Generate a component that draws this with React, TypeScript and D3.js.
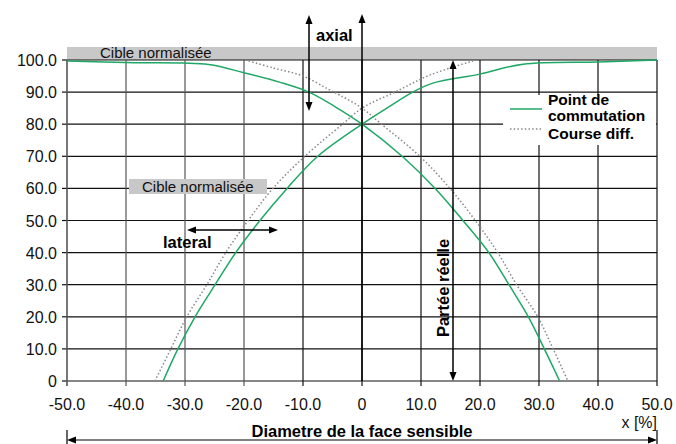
import React from 'react';
import * as d3 from 'd3';

// x ticks and y ticks
const xTicks = [-50, -40, -30, -20, -10, 0, 10, 20, 30, 40, 50];
const yTicks = [0, 10, 20, 30, 40, 50, 60, 70, 80, 90, 100];
const fmt = (v: number) => (v === 0 ? '0' : v.toFixed(1));

// green "Point de commutation" curves
const fallX = [-50, -40, -26, -20, -14, -9, -4.6, 0, 6.8, 12.4, 17.1, 21.5, 24.9, 28.2, 30.9, 33.5];
const fallY = [99.7, 99.2, 98.6, 96, 93.1, 90, 85.5, 80, 70, 60, 50, 40, 30, 20, 10, 0];
const riseX = [-33.7, -31.2, -28.3, -24.9, -21.4, -17.3, -12.7, -7.5, 0, 4.2, 8.6, 12, 20, 27.3, 40, 50];
const riseY = [0, 10, 20, 30, 40, 50, 60, 70, 80, 85, 90, 92.8, 95.6, 98.7, 99.4, 100];

// dotted "Course diff." curves
const dFallX = [-19.8, -15, -10, -5.8, -3.7, 0, 3.3, 9.8, 14.9, 19.2, 23, 26.2, 29.8, 32.4, 34.9];
const dFallY = [100, 97.5, 95, 91, 89, 85, 80, 70, 60, 50, 40, 30, 20, 10, 0];
const dRiseX = [-35.1, -32.4, -29.7, -26.3, -23.1, -19.3, -15.1, -9.7, -3.3, 0, 5.6, 11.5, 18.8];
const dRiseY = [0, 10, 20, 30, 40, 50, 60, 70, 80, 85, 90, 95.3, 99.7];

const W = 676, H = 444;
const x = d3.scaleLinear().domain([-50, 50]).range([67, 657]);
const y = d3.scaleLinear().domain([0, 100]).range([381, 60]);

const GREEN = '#1fa865';
const DOT = '#888';
const FONT = '"Liberation Sans", Arial, Helvetica, sans-serif';

const line = d3.line<[number, number]>().x(d => x(d[0])).y(d => y(d[1])).curve(d3.curveCatmullRom.alpha(0.5));
const pts = (xs: number[], ys: number[]) => xs.map((v, i) => [v, ys[i]] as [number, number]);

// filled arrow head pointing in a direction
const Head = ({ px, py, dir }: { px: number; py: number; dir: 'up' | 'down' | 'left' | 'right' }) => {
  const l = 9, w = 3.5;
  let p = '';
  if (dir === 'up') p = `${px},${py} ${px - w},${py + l} ${px + w},${py + l}`;
  if (dir === 'down') p = `${px},${py} ${px - w},${py - l} ${px + w},${py - l}`;
  if (dir === 'left') p = `${px},${py} ${px + l},${py - w} ${px + l},${py + w}`;
  if (dir === 'right') p = `${px},${py} ${px - l},${py - w} ${px - l},${py + w}`;
  return <polygon points={p} fill="#000" />;
};

export default function App() {
  return (
    <svg width={W} height={H} style={{ position: 'absolute', left: 0, top: 0, background: '#fff' }} fontFamily={FONT}>
      {/* top grey band */}
      <rect x={x(-50)} y={47} width={x(50) - x(-50)} height={y(100) - 47} fill="#c8c8c8" />
      <text x={100} y={58} fontSize={15} fill="#111">Cible normalisée</text>

      {/* grid */}
      {yTicks.map(t => (
        <g key={`h${t}`}>
          <line x1={x(-50)} x2={x(50)} y1={y(t)} y2={y(t)} stroke="#111" strokeWidth={1.2} />
          <line x1={x(-50) - 5} x2={x(-50)} y1={y(t)} y2={y(t)} stroke="#111" strokeWidth={1.2} />
          <text x={57} y={y(t) + 6} textAnchor="end" fontSize={16} fill="#111">{fmt(t)}</text>
        </g>
      ))}
      {xTicks.map(t => (
        <g key={`v${t}`}>
          <line x1={x(t)} x2={x(t)} y1={y(100)} y2={y(0) + 5} stroke={t < -10 ? '#555' : '#111'} strokeWidth={t === -50 ? 1.6 : 1.2} />
          <text x={x(t)} y={410} textAnchor="middle" fontSize={16} fill="#111">{fmt(t)}</text>
        </g>
      ))}
      <text x={x(50)} y={428} textAnchor="end" fontSize={16} fill="#111">x [%]</text>

      {/* second grey label */}
      <rect x={129} y={179} width={138} height={15} fill="#c8c8c8" />
      <text x={142} y={192} fontSize={15} fill="#111">Cible normalisée</text>

      {/* legend box */}
      <rect x={503} y={95} width={153} height={50} fill="#fff" />
      <line x1={510} x2={542} y1={109} y2={109} stroke={GREEN} strokeWidth={1.5} />
      <line x1={510} x2={542} y1={129} y2={129} stroke={DOT} strokeWidth={1.5} strokeDasharray="1.5,2.2" />
      <text x={548} y={105} fontSize={15.5} fontWeight="bold">Point de</text>
      <text x={548} y={121} fontSize={15.5} fontWeight="bold">commutation</text>
      <text x={548} y={139} fontSize={15.5} fontWeight="bold">Course diff.</text>

      {/* curves */}
      <path d={line(pts(dFallX, dFallY)) ?? ''} fill="none" stroke={DOT} strokeWidth={1.5} strokeDasharray="1.5,2.2" />
      <path d={line(pts(dRiseX, dRiseY)) ?? ''} fill="none" stroke={DOT} strokeWidth={1.5} strokeDasharray="1.5,2.2" />
      <path d={line(pts(fallX, fallY)) ?? ''} fill="none" stroke={GREEN} strokeWidth={1.5} />
      <path d={line(pts(riseX, riseY)) ?? ''} fill="none" stroke={GREEN} strokeWidth={1.5} />

      {/* y axis arrow at x=0 */}
      <line x1={x(0)} x2={x(0)} y1={y(0)} y2={20} stroke="#000" strokeWidth={1.5} />
      <Head px={x(0)} py={14} dir="up" />

      {/* axial arrow */}
      <line x1={309} x2={309} y1={22} y2={104} stroke="#000" strokeWidth={1.5} />
      <Head px={309} py={15} dir="up" />
      <Head px={309} py={111} dir="down" />
      <text x={316} y={41} fontSize={16.5} fontWeight="bold">axial</text>

      {/* lateral arrow */}
      <line x1={193} x2={272} y1={230} y2={230} stroke="#000" strokeWidth={1.5} />
      <Head px={187} py={230} dir="left" />
      <Head px={278} py={230} dir="right" />
      <text x={163} y={248} fontSize={16.5} fontWeight="bold">lateral</text>

      {/* Partée réelle arrow */}
      <line x1={453} x2={453} y1={66} y2={375} stroke="#000" strokeWidth={1.5} />
      <Head px={453} py={y(100)} dir="up" />
      <Head px={453} py={y(0)} dir="down" />
      <text transform={`translate(449, 288) rotate(-90)`} textAnchor="middle" fontSize={16.5} fontWeight="bold">Partée réelle</text>

      {/* diameter arrow */}
      <line x1={x(-50)} x2={x(-50)} y1={430} y2={444} stroke="#000" strokeWidth={1.2} />
      <line x1={x(50)} x2={x(50)} y1={430} y2={444} stroke="#000" strokeWidth={1.2} />
      <line x1={x(-50) + 6} x2={x(50) - 6} y1={440} y2={440} stroke="#000" strokeWidth={1.2} />
      <Head px={x(-50)} py={440} dir="left" />
      <Head px={x(50)} py={440} dir="right" />
      <text x={x(0)} y={437} textAnchor="middle" fontSize={16.5} fontWeight="bold">Diametre de la face sensible</text>
    </svg>
  );
}
